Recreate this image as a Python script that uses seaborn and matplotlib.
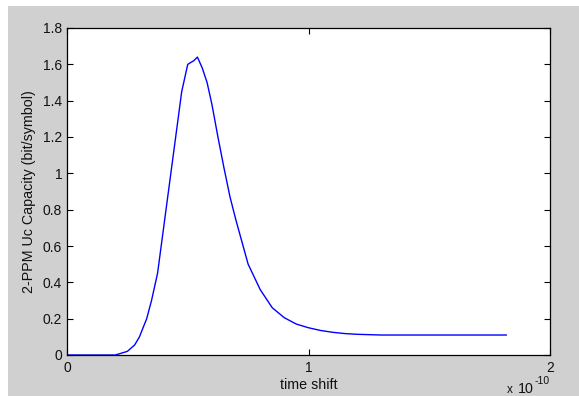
import matplotlib
matplotlib.use("Agg")
import matplotlib.pyplot as plt
import seaborn as sns
import pandas as pd
from matplotlib.patches import Rectangle

# time shift in units of 1e-10
time_shift = [0, 0.2, 0.25, 0.28, 0.3, 0.33, 0.35, 0.375, 0.4, 0.425, 0.45, 0.475,
              0.5, 0.525, 0.54, 0.56, 0.58, 0.6, 0.625, 0.65, 0.675, 0.7, 0.725,
              0.75, 0.8, 0.85, 0.9, 0.95, 1.0, 1.05, 1.1, 1.15, 1.2, 1.3, 1.5, 1.82]
capacity = [0, 0, 0.02, 0.055, 0.1, 0.2, 0.3, 0.45, 0.7, 0.95, 1.2, 1.45,
            1.6, 1.62, 1.64, 1.58, 1.5, 1.38, 1.2, 1.03, 0.87, 0.74, 0.62,
            0.5, 0.36, 0.26, 0.205, 0.17, 0.15, 0.135, 0.125, 0.118, 0.114, 0.11, 0.11, 0.11]
xticks = [0, 1, 2]
yticks = [0, 0.2, 0.4, 0.6, 0.8, 1, 1.2, 1.4, 1.6, 1.8]
ytick_labels = ["0", "0.2", "0.4", "0.6", "0.8", "1", "1.2", "1.4", "1.6", "1.8"]

sns.set_style("white")
plt.rcParams['font.family'] = ['Liberation Sans', 'DejaVu Sans']

W, H = 579, 396
fig = plt.figure(figsize=(W / 100, H / 100), dpi=100, facecolor="white")
bg = Rectangle((8 / W, 0), 1 - 8 / W, 1 - 6 / H, transform=fig.transFigure,
               facecolor="#d0d0d0", edgecolor="none", zorder=-10)
fig.patches.append(bg)
ax = fig.add_axes([67 / W, 1 - 355 / H, (550 - 67) / W, (355 - 28) / H])
ax.set_zorder(1)
ax.set_facecolor("white")

df = pd.DataFrame({"t": time_shift, "c": capacity})
sns.lineplot(data=df, x="t", y="c", ax=ax, color="#0000ff", linewidth=1.0)

ax.set_xlim(0, 2)
ax.set_ylim(0, 1.8)
ax.set_xticks(xticks)
ax.set_xticklabels([str(v) for v in xticks])
ax.set_yticks(yticks)
ax.set_yticklabels(ytick_labels)
ax.tick_params(direction="in", length=4, width=0.8, color="black", labelsize=10,
               top=True, right=True, bottom=True, left=True, labelcolor="#111111")
ax.tick_params(axis="x", pad=4.5)
ax.tick_params(axis="y", pad=3.5)
for s in ax.spines.values():
    s.set_visible(True)
    s.set_color("black")
    s.set_linewidth(0.9)
ax.set_xlabel("time shift", fontsize=10.3, labelpad=2, color="#111111")
ax.set_ylabel("2-PPM Uc Capacity (bit/symbol)", fontsize=10.3, labelpad=5, color="#111111")
fig.text(507 / W, 1 - 393 / H, "x", fontsize=8.5, va="baseline", ha="left", color="#111111")
fig.text(518 / W, 1 - 393 / H, "10", fontsize=10.3, va="baseline", ha="left", color="#111111")
fig.text(535 / W, 1 - 384 / H, "-10", fontsize=7.5, va="baseline", ha="left", color="#111111")

fig.savefig("out.png", dpi=100, facecolor=fig.get_facecolor())
